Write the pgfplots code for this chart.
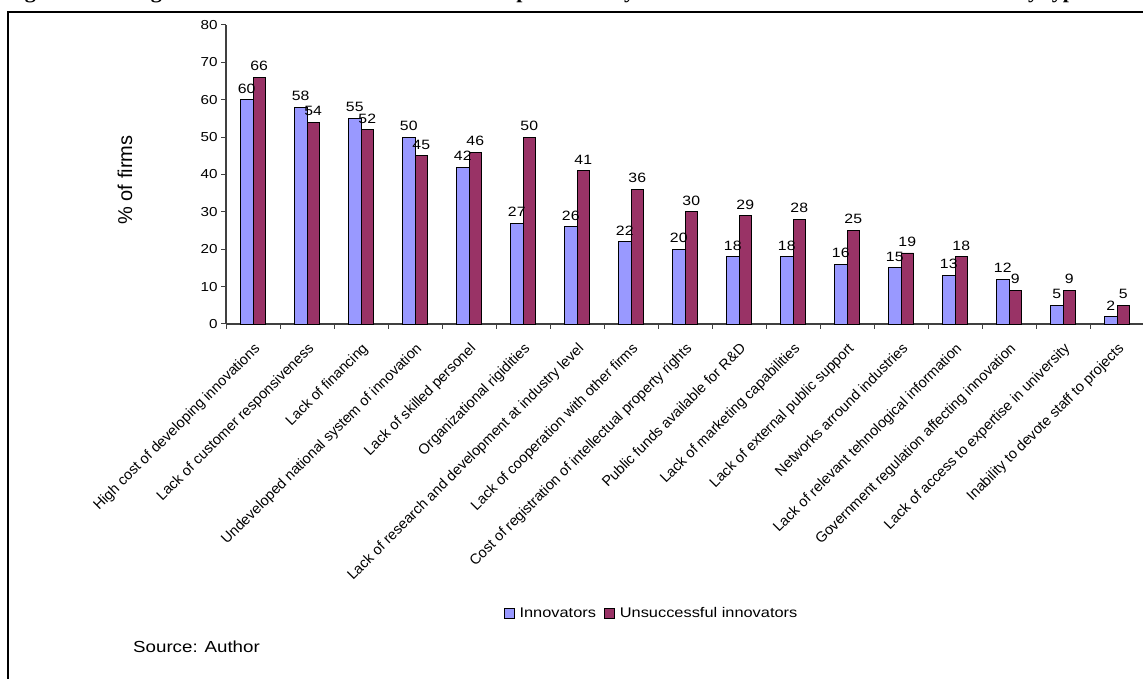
\documentclass[border=0pt]{standalone}
\usepackage{fontspec}
\setmainfont{Liberation Sans}
\newfontfamily\widesans[FakeStretch=1.17]{Liberation Sans}
\newfontfamily\titleserif[FakeStretch=1.1]{Liberation Serif}
\usepackage{pgfplots}
\pgfplotsset{compat=1.18}
\definecolor{innov}{HTML}{9999FF}
\definecolor{unsucc}{HTML}{993366}

\begin{document}
\begin{tikzpicture}
\useasboundingbox (0pt,0pt) rectangle (1143pt,679pt);
% figure caption (runs above the page edge)
\node[anchor=base west, inner sep=0pt, font=\fontsize{20}{24}\titleserif\bfseries]
  at (5pt,680pt) {Figure 5: Rating of the main barriers to innovation as perceived by innovators and unsuccessful innovators by type};
% frame
\draw[line width=2pt] (8pt,-10pt) -- (8pt,667pt) -- (1160pt,667pt);

\begin{axis}[
  at={(226pt,355pt)}, anchor=south west,
  scale only axis, width=918pt, height=299pt,
  xmin=-0.5, xmax=16.5, ymin=0, ymax=80,
  axis x line=bottom, axis y line=left,
  axis line style={-, draw=black!75, line width=1.2pt},
  ybar=0pt, bar width=12.5pt,
  clip=false,
  tick align=outside,
  major tick length=5pt, minor tick length=5pt,
  tick style={draw=black!75, line width=1pt},
  major x tick style={draw=none},
  ytick={0,10,...,80},
  xtick={0,...,16},
  minor xtick={-0.5,0.5,...,16.5},
  xticklabels={
    High cost of developing innovations,
    Lack of customer responsiveness,
    Lack of financing,
    Undeveloped national system of innovation,
    Lack of skilled personel,
    Organizational rigidities,
    Lack of research and development at industry level,
    Lack of cooperation with other firms,
    Cost of registration of intellectual property rights,
    Public funds available for R\&D,
    Lack of marketing capabilities,
    Lack of external public support,
    Networks arround industries,
    Lack of relevant tehnological information,
    Government regulation affecting innovation,
    Lack of access to expertise in university,
    Inability to devote staff to projects},
  x tick label style={rotate=45, anchor=north east, inner sep=1pt,
    font=\fontsize{14.5}{16}\selectfont, xshift=-8pt, yshift=-8pt},
  y tick label style={font=\fontsize{13}{15}\widesans},
  /pgf/number format/assume math mode=true,
  ylabel={\% of firms},
  ylabel style={at={(axis description cs:-0.110,0.4816)}, anchor=center,
    font=\fontsize{20}{22}\selectfont},
  nodes near coords,
  every node near coord/.append style={font=\fontsize{13.5}{15}\widesans, inner sep=2pt, yshift=4pt},
  legend style={at={(0.4636,-0.9666)}, anchor=center, draw=none,
    font=\fontsize{14}{16}\widesans, legend columns=2,
    /tikz/every odd column/.append style={column sep=3pt},
    /tikz/every even column/.append style={column sep=6pt}},
  legend image code/.code={\draw[#1, line width=0.8pt] (0pt,-5pt) rectangle (10pt,5pt);},
]
\addplot[fill=innov, draw=black, line width=0.9pt] coordinates {
  (0,60) (1,58) (2,55) (3,50) (4,42) (5,27) (6,26) (7,22) (8,20)
  (9,18) (10,18) (11,16) (12,15) (13,13) (14,12) (15,5) (16,2)};
\addplot[fill=unsucc, draw=black, line width=0.9pt] coordinates {
  (0,66) (1,54) (2,52) (3,45) (4,46) (5,50) (6,41) (7,36) (8,30)
  (9,29) (10,28) (11,25) (12,19) (13,18) (14,9) (15,9) (16,5)};
\legend{Innovators, Unsuccessful innovators}
\end{axis}

\node[anchor=west, inner sep=0pt, font=\fontsize{16}{18}\widesans] at (133pt,32pt) {Source: Author};
\end{tikzpicture}
\end{document}
